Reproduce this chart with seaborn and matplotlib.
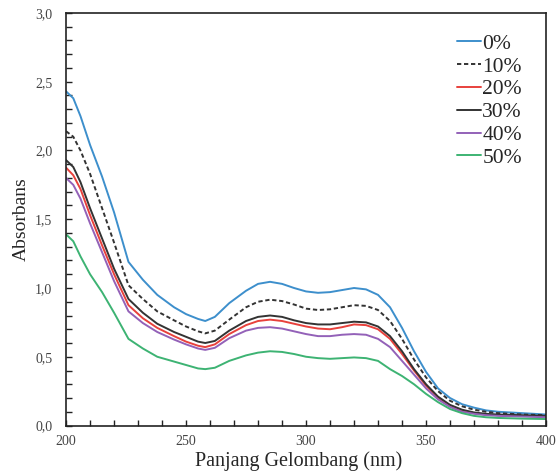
import matplotlib
matplotlib.use("Agg")
import matplotlib.pyplot as plt
import matplotlib.ticker as mticker
import pandas as pd
import seaborn as sns

wavelength = [200, 203, 206, 210, 215, 220, 226, 232, 238, 245, 250, 255, 258,
              262, 268, 275, 280, 285, 290, 295, 300, 305, 310, 315, 320, 325,
              330, 335, 340, 345, 350, 355, 360, 365, 370, 375, 380, 390, 400]

abs_0 = [2.43, 2.38, 2.25, 2.04, 1.81, 1.55, 1.19, 1.06, 0.95, 0.86, 0.81, 0.775, 0.76,
         0.79, 0.89, 0.98, 1.03, 1.045, 1.03, 1.00, 0.975, 0.965, 0.97, 0.985, 1.00, 0.99,
         0.95, 0.86, 0.71, 0.54, 0.39, 0.27, 0.20, 0.155, 0.13, 0.11, 0.10, 0.09, 0.08]
abs_10 = [2.14, 2.10, 2.00, 1.83, 1.58, 1.33, 1.02, 0.92, 0.83, 0.765, 0.72, 0.685, 0.67,
          0.69, 0.77, 0.86, 0.90, 0.915, 0.905, 0.88, 0.85, 0.84, 0.845, 0.86, 0.875, 0.87,
          0.84, 0.76, 0.63, 0.48, 0.35, 0.25, 0.18, 0.14, 0.115, 0.10, 0.09, 0.08, 0.075]
abs_20 = [1.875, 1.82, 1.72, 1.53, 1.31, 1.10, 0.875, 0.78, 0.71, 0.65, 0.61, 0.58, 0.57,
          0.59, 0.665, 0.73, 0.76, 0.77, 0.76, 0.74, 0.72, 0.705, 0.70, 0.715, 0.735, 0.73,
          0.70, 0.63, 0.52, 0.40, 0.29, 0.20, 0.145, 0.11, 0.09, 0.08, 0.075, 0.07, 0.065]
abs_30 = [1.93, 1.88, 1.77, 1.58, 1.36, 1.14, 0.92, 0.82, 0.74, 0.68, 0.645, 0.61, 0.60,
          0.615, 0.69, 0.76, 0.79, 0.80, 0.79, 0.765, 0.745, 0.735, 0.735, 0.745, 0.755, 0.75,
          0.72, 0.65, 0.54, 0.41, 0.30, 0.21, 0.15, 0.115, 0.095, 0.085, 0.08, 0.075, 0.07]
abs_40 = [1.80, 1.75, 1.65, 1.47, 1.26, 1.05, 0.83, 0.745, 0.68, 0.625, 0.59, 0.56, 0.55,
          0.565, 0.635, 0.69, 0.71, 0.715, 0.705, 0.685, 0.665, 0.65, 0.65, 0.66, 0.665, 0.66,
          0.63, 0.57, 0.47, 0.37, 0.27, 0.19, 0.135, 0.10, 0.085, 0.075, 0.07, 0.065, 0.06]
abs_50 = [1.39, 1.34, 1.23, 1.10, 0.97, 0.82, 0.63, 0.56, 0.50, 0.465, 0.44, 0.415, 0.41,
          0.42, 0.47, 0.51, 0.53, 0.54, 0.535, 0.52, 0.50, 0.49, 0.485, 0.49, 0.495, 0.49,
          0.47, 0.41, 0.36, 0.30, 0.23, 0.17, 0.12, 0.09, 0.07, 0.06, 0.055, 0.05, 0.047]

labels = ["0%", "10%", "20%", "30%", "40%", "50%"]
series = [abs_0, abs_10, abs_20, abs_30, abs_40, abs_50]
colors = ["#3d8fcc", "#333333", "#e8413c", "#333333", "#9361b8", "#3db373"]
dashed = [False, True, False, False, False, False]

sns.set_style("ticks")
plt.rcParams["font.family"] = ["Liberation Serif", "DejaVu Serif"]

fig = plt.figure(figsize=(5.6, 4.72), dpi=100)
ax = fig.add_axes([0.118, 0.0985, 0.857, 0.874])

for lab, vals, col, dsh in zip(labels, series, colors, dashed):
    d = pd.DataFrame({"nm": wavelength, "abs": vals})
    line = sns.lineplot(data=d, x="nm", y="abs", color=col,
                        linewidth=1.4, label=lab, ax=ax).lines[-1]
    line.set_solid_joinstyle("round")
    if dsh:
        line.set_dashes((2.2, 1.4))

ax.set_xlim(200, 400)
ax.set_ylim(0, 3.0)
ax.xaxis.set_major_locator(mticker.MultipleLocator(50))
ax.xaxis.set_minor_locator(mticker.MultipleLocator(10))
ax.yaxis.set_major_locator(mticker.MultipleLocator(0.5))
ax.yaxis.set_minor_locator(mticker.MultipleLocator(0.1))
ax.yaxis.set_major_formatter(mticker.FuncFormatter(lambda v, p: f"{v:.1f}".replace(".", ",")))
ax.tick_params(which="both", direction="in", length=4, width=1, color="#222222",
               labelsize=10, labelcolor="#444444", top=False, right=False)
ax.tick_params(axis="x", pad=7)
ax.tick_params(axis="y", pad=10)

for s in ax.spines.values():
    s.set_color("#222222")
    s.set_linewidth(1.2)

ax.set_xlabel("Panjang Gelombang (nm)", fontsize=14.5)
ax.xaxis.set_label_coords(0.485, -0.062)
ax.set_ylabel("Absorbans", fontsize=14, labelpad=4)

ax.legend(loc="upper right", bbox_to_anchor=(0.99, 0.997), frameon=False,
          fontsize=15.5, handlelength=1.1, handletextpad=0.05, labelspacing=0.13)

fig.savefig("out.png", dpi=100)
